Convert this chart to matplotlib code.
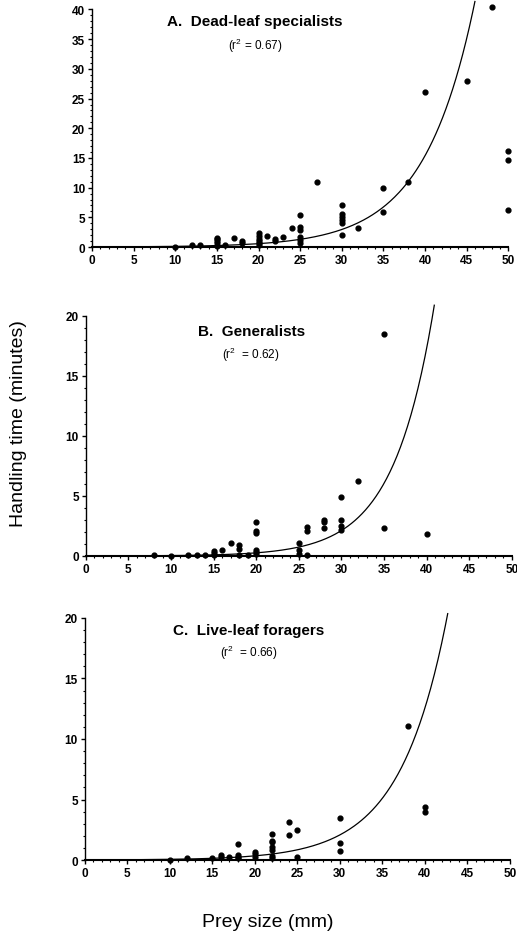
import numpy as np
import matplotlib
matplotlib.use('Agg')
import matplotlib.pyplot as plt
from matplotlib.ticker import MultipleLocator

plt.rcParams['font.family'] = ['Liberation Sans', 'DejaVu Sans']

# ── Panel A: dead-leaf specialists ───────────────────────────────────────
a_x = [48, 45, 40, 50, 50, 50, 27, 35, 38, 35,
       30, 30, 30, 30, 30, 30, 32,
       25, 25, 25, 25, 25, 25, 24, 23, 22, 22, 21,
       20, 20, 20, 20, 20, 20, 18, 18, 17, 16,
       15, 15, 15, 15, 15, 13, 12, 10]
a_y = [40.4, 28.0, 26.1, 16.2, 14.6, 6.3, 11.0, 9.9, 11.0, 5.9,
       7.0, 5.5, 5.0, 4.5, 4.0, 2.0, 3.2,
       5.4, 3.3, 2.9, 1.7, 1.2, 0.7, 3.2, 1.7, 1.4, 1.0, 1.8,
       2.3, 1.9, 1.4, 1.0, 0.6, 0.3, 1.0, 0.6, 1.5, 0.4,
       1.6, 1.3, 1.0, 0.6, 0.2, 0.3, 0.4, 0.0]

# ── Panel B: generalists ─────────────────────────────────────────────────
b_x = [35, 32, 30, 30, 30, 30, 28, 28, 28, 26, 26, 26,
       25, 25, 25, 35, 40, 20, 20, 20, 20, 20, 20,
       18, 18, 17, 16, 15, 15, 15, 14, 13, 12, 10, 8, 18, 19]
b_y = [18.5, 6.25, 4.9, 3.0, 2.5, 2.2, 3.0, 2.8, 2.3, 2.4, 2.1, 0.05,
       1.05, 0.5, 0.2, 2.3, 1.8, 2.8, 2.1, 1.95, 0.5, 0.33, 0.14,
       0.95, 0.6, 1.1, 0.47, 0.42, 0.22, 0.05, 0.05, 0.05, 0.05, 0.0, 0.05, 0.1, 0.05]

# ── Panel C: live-leaf foragers ──────────────────────────────────────────
c_x = [38, 40, 40, 30, 30, 30, 24, 24, 25, 25,
       22, 22, 22, 22, 22, 22, 22, 20, 20, 20,
       18, 18, 18, 18, 17, 16, 16, 15, 12, 10]
c_y = [11.05, 4.35, 4.0, 3.5, 1.4, 0.74, 3.1, 2.1, 2.45, 0.28,
       2.15, 1.6, 1.45, 1.05, 0.85, 0.36, 0.17, 0.7, 0.5, 0.22,
       1.3, 0.45, 0.28, 0.14, 0.28, 0.45, 0.28, 0.2, 0.14, 0.03]

# exponential fits  y = a * exp(b * x): (a, b, x start, x end)
fit_a = (0.0209, 0.165, 6, 46.0)
fit_b = (0.00389, 0.21, 0, 40.9)
fit_c = (0.00935, 0.18, 0, 42.7)

titles = ['A.  Dead-leaf specialists', 'B.  Generalists', 'C.  Live-leaf foragers']
r2_labels = ['(r$^{\\mathregular{2}}$ = 0.67)', '(r$^{\\mathregular{2}}$  = 0.62)',
             '(r$^{\\mathregular{2}}$  = 0.66)']
ymaxes = [40, 20, 20]
ymajor = [5, 5, 5]

# axes rectangles (figure fractions)
rects = [[0.178, 0.7353, 0.805, 0.2535],
         [0.166, 0.4056, 0.824, 0.2561],
         [0.164, 0.0811, 0.822, 0.2583]]
title_pos = [(19.6, 38.1, 34.1), (19.4, 18.75, 16.8), (19.3, 19.0, 17.2)]

fig = plt.figure(figsize=(5.17, 9.37), dpi=100)

panels = [(a_x, a_y, fit_a), (b_x, b_y, fit_b), (c_x, c_y, fit_c)]
for i, (xs, ys, fit) in enumerate(panels):
    ax = fig.add_axes(rects[i])
    ax.scatter(xs, ys, s=12, color='black', zorder=3, clip_on=False)
    a, b, x0, x1 = fit
    xx = np.linspace(x0, x1, 300)
    ax.plot(xx, a * np.exp(b * xx), color='black', lw=0.9, clip_on=False)
    ax.set_xlim(0, 50)
    ax.set_ylim(0, ymaxes[i])
    ax.spines['top'].set_visible(False)
    ax.spines['right'].set_visible(False)
    ax.spines['left'].set_linewidth(1.0)
    ax.spines['bottom'].set_linewidth(1.5)
    ax.xaxis.set_major_locator(MultipleLocator(5))
    ax.xaxis.set_minor_locator(MultipleLocator(1))
    ax.yaxis.set_major_locator(MultipleLocator(ymajor[i]))
    ax.yaxis.set_minor_locator(MultipleLocator(1))
    ax.tick_params(which='major', direction='out', length=3, width=1.0,
                   labelsize=8.5, pad=2)
    ax.tick_params(which='minor', direction='out', length=1.6, width=0.8)
    for lab in ax.get_xticklabels() + ax.get_yticklabels():
        lab.set_fontweight('bold')
    tx, ty, ry = title_pos[i]
    ax.text(tx, ty, titles[i], ha='center', va='center', fontsize=11,
            fontweight='bold')
    ax.text(tx, ry, r2_labels[i], ha='center', va='center', fontsize=8.5)

fig.text(0.035, 0.548, 'Handling time (minutes)', rotation=90,
         ha='center', va='center', fontsize=14)
fig.text(0.517, 0.015, 'Prey size (mm)', ha='center', va='center', fontsize=14)

fig.savefig('out.png', dpi=100, facecolor='white')
